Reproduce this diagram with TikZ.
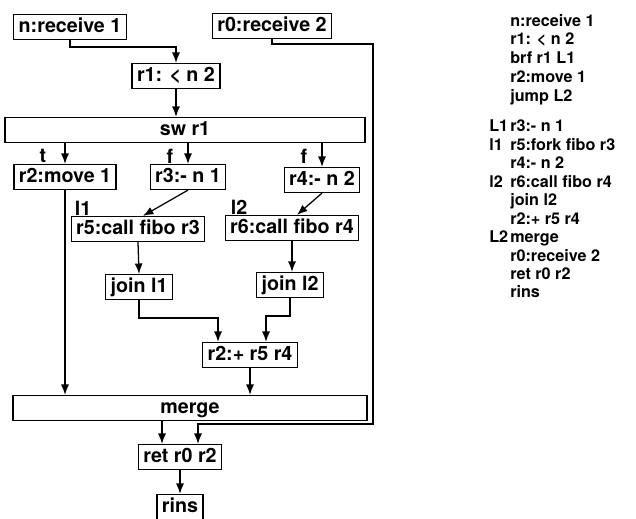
\documentclass[tikz,border=0pt]{standalone}
\usepackage{fontspec}
\setmainfont{TeX Gyre Heros}
\usetikzlibrary{calc,arrows.meta}

\tikzset{
  op/.style={draw, line width=1pt, font=\bfseries\fontsize{14}{16}\selectfont,
    inner xsep=3.5pt, inner ysep=2pt, text height=10.2pt, text depth=3pt, minimum height=0.62cm},
  arr/.style={line width=0.9pt, -{Latex[length=2.6mm,width=2mm]}},
  lab/.style={font=\bfseries\fontsize{14}{16}\selectfont, inner sep=0pt},
  code/.style={font=\bfseries\fontsize{11.5}{14}\selectfont, anchor=west, inner sep=0pt,
    text height=9pt, text depth=2.5pt},
}

\begin{document}
\begin{tikzpicture}[x=0.025cm, y=-0.025cm]
    \useasboundingbox (0,0) rectangle (636,518);

    % the graph
    \node[op] (nrecv) at (70,27) {n:receive 1};
    \node[op] (r0recv) at (272,26) {r0:receive 2};
    \node[op] (rlt) at (176,76) {r1: < n 2};
    \node[op, minimum width=9cm] (swr) at (185,130) {sw r1};
    \node[op] (rmove) at (65,177) {r2:move 1};
    \node[op] (rsub1) at (188,177) {r3:- n 1};
    \node[op] (rsub2) at (322,180) {r4:- n 2};
    \node[op] (rcall1) at (138,229) {r5:call fibo r3};
    \node[op] (rcall2) at (292,228) {r6:call fibo r4};
    \node[op] (join1) at (139,287) {join l1};
    \node[op] (join2) at (290,285) {join l2};
    \node[op] (radd) at (250,355) {r2:+ r5 r4};
    \node[op, minimum width=8.85cm] (merge) at (190,408) {merge};
    \node[op] (ret) at (180,457) {ret r0 r2};
    \node[op] (rins) at (180,507) {rins};

    \node[lab] (tlab) at (43,156) {t};
    \node[lab] (flab1) at (170,156) {f};
    \node[lab] (flab2) at (304,156) {f};
    \node[lab] (llab1) at (83,208) {l1};
    \node[lab] (llab2) at (239,207) {l2};

    \coordinate (back) at (373,424);
    \coordinate (retin1) at ($(ret.north)+(-18,0)$);
    \coordinate (retin2) at ($(ret.north)+(18,0)$);
    \coordinate (addin1) at ($(radd.north)+(-32,0)$);
    \coordinate (addin2) at ($(radd.north)+(16,0)$);

    \draw[arr] (nrecv.south) -- ++(0,7) -| (rlt.north);
    \draw[arr] (rlt.south) -- (rlt.south |- swr.north);
    \draw[arr] (swr.south -| rmove.north) -- (rmove.north);
    \draw[arr] (swr.south -| rsub1.north) -- (rsub1.north);
    \draw[arr] (swr.south -| rsub2.north) -- (rsub2.north);
    \draw[arr] (rsub1.south) -- ($(rcall1.north)+(5,0)$);
    \draw[arr] (rsub2.south) -- ($(rcall2.north)+(5,0)$);
    \draw[arr] (rcall1.south) -- (join1.north);
    \draw[arr] (rcall2.south) -- (rcall2.south |- join2.north);
    \draw[arr] (join1.south) -- ++(0,18) -| (addin1);
    \draw[arr] (join2.south) -- ++(0,18) -| (addin2);
    \draw[arr] (rmove.south) -- (rmove.south |- merge.north);
    \draw[arr] (radd.south) -- (radd.south |- merge.north);
    \draw[arr] (merge.south -| retin1) -- (retin1);
    \draw[arr] (r0recv.south) -- ++(0,5) -| (back) -| (retin2);
    \draw[arr] (ret.south) -- (rins.north);

    % the code
    \foreach \y/\txt [count=\i] in {22/n:receive 1, 40/r1: < n 2, 59/brf r1 L1,
        78/r2:move 1, 97/jump L2, 127/r3:- n 1, 146/r5:fork fibo r3, 164/r4:- n 2,
        183/r6:call fibo r4, 201/join l2, 220/r2:+ r5 r4, 238/merge,
        257/r0:receive 2, 275/ret r0 r2, 293/rins} {
        \node[code] (code\i) at (510,\y) {\txt};
    }
    \foreach \y/\txt in {127/L1, 146/l1, 183/l2, 238/L2} {
        \node[code] (tag\txt) at (489,\y) {\txt};
    }
\end{tikzpicture}
\end{document}
